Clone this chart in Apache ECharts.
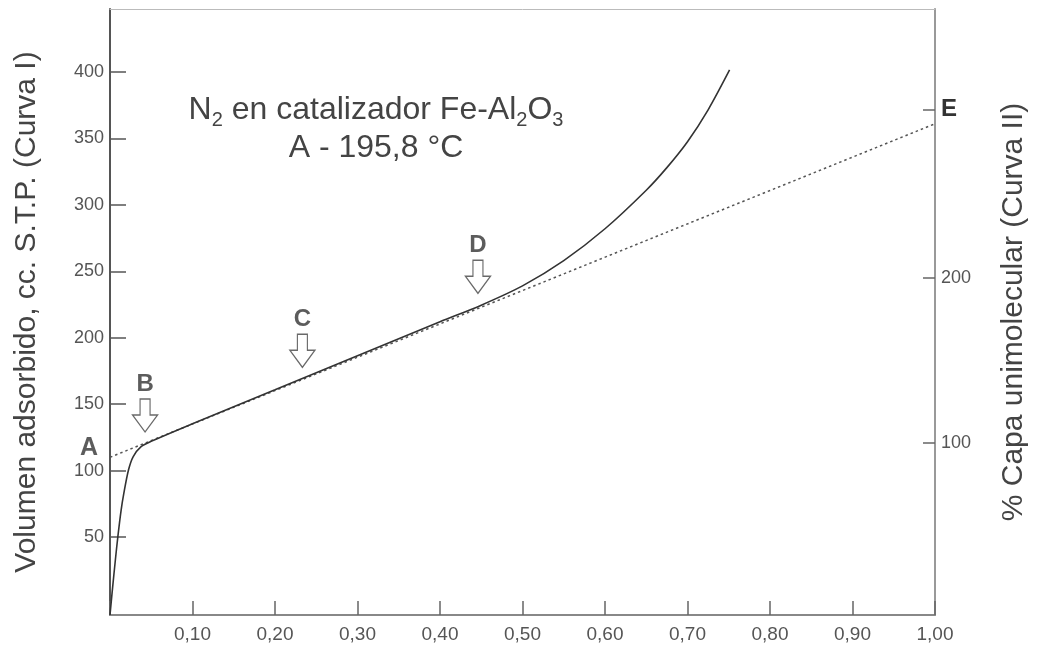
<!DOCTYPE html>
<html>
<head>
<meta charset="utf-8">
<script src="https://cdn.jsdelivr.net/npm/echarts@6/dist/echarts.min.js"></script>
<style>html,body{margin:0;padding:0;background:#fff;}#c{width:1037px;height:646px;}</style>
</head>
<body>
<div id="c"></div>
<script>
// Curve I (solid isotherm)
const curveX = [0, 0.0025, 0.0065, 0.0096, 0.0135, 0.0168, 0.0224, 0.028, 0.0377, 0.0506, 0.10, 0.20, 0.30, 0.40, 0.45, 0.50, 0.55, 0.60, 0.65, 0.675, 0.70, 0.725, 0.751];
const curveY = [-8.7, 7.8, 32.7, 50.7, 70.3, 83, 100.4, 110.4, 118, 122.2, 135.2, 160.8, 186.4, 212, 224.5, 239, 258, 282, 311, 328, 347.5, 371.5, 401.5];
// Extrapolated straight line A -> E (dotted)
const lineX = [0, 1.0];
const lineY = [110, 361];
// Arrow marks (tip positions)
const arrowLabels = ['B', 'C', 'D'];
const arrowX = [0.0425, 0.2332, 0.446];
const arrowY = [129, 177.7, 233.4];
// Point A label
const pointA = [0, 117];
// Tick labels
const leftTicks = [50, 100, 150, 200, 250, 300, 350, 400];
const rightTicks = [100, 200];
const rightE = 302;

const font = '"Liberation Sans", Arial, Helvetica, sans-serif';
const chart = echarts.init(document.getElementById('c'), null, {renderer: 'canvas'});

const option = {
  backgroundColor: '#fff',
  animation: false,
  grid: {left: 110, right: 98, top: 9, bottom: 31, containLabel: false},
  xAxis: [{
    type: 'value', min: 0, max: 1, interval: 0.1,
    axisLine: {show: true, onZero: false, lineStyle: {color: '#888', width: 2}},
    axisTick: {show: true, inside: true, length: 14, lineStyle: {color: '#666', width: 1.5}},
    axisLabel: {
      show: true, margin: 10, fontSize: 19, color: '#555', fontFamily: font,
      showMinLabel: true, showMaxLabel: true,
      formatter: v => v === 0 ? '' : v.toFixed(2).replace('.', ',')
    },
    splitLine: {show: false}
  }, {
    type: 'value', min: 0, max: 1, position: 'top',
    axisLine: {show: true, onZero: false, lineStyle: {color: '#bbb', width: 1}},
    axisTick: {show: false}, axisLabel: {show: false}, splitLine: {show: false}
  }],
  yAxis: [{
    type: 'value', min: -8.7, max: 447.4, position: 'left',
    name: 'Volumen adsorbido, cc. S.T.P. (Curva I)',
    nameLocation: 'middle', nameRotate: 90, nameGap: 68,
    nameTextStyle: {fontSize: 30, color: '#444', fontFamily: font},
    axisLine: {show: true, onZero: false, lineStyle: {color: '#555', width: 2}},
    axisTick: {show: true, inside: true, length: 16, customValues: leftTicks, lineStyle: {color: '#555', width: 1.5}},
    axisLabel: {show: true, inside: false, margin: 6, fontSize: 18, color: '#555', fontFamily: font, customValues: leftTicks},
    splitLine: {show: false}
  }, {
    type: 'value', min: -4.2, max: 363, position: 'right',
    name: '% Capa unimolecular (Curva II)',
    nameLocation: 'middle', nameRotate: 90, nameGap: 64,
    nameTextStyle: {fontSize: 30, color: '#444', fontFamily: font},
    axisLine: {show: true, onZero: false, lineStyle: {color: '#999', width: 2}},
    axisTick: {show: true, inside: true, length: 12, customValues: rightTicks.concat([rightE]), lineStyle: {color: '#666', width: 1.5}},
    axisLabel: {
      show: true, margin: 6, fontSize: 18, color: '#555', fontFamily: font,
      customValues: rightTicks.concat([rightE]),
      formatter: v => v === rightE ? '{e|E}' : String(v),
      rich: {e: {fontSize: 24, fontWeight: 'bold', color: '#333', fontFamily: font}}
    },
    splitLine: {show: false}
  }],
  graphic: [{
    type: 'text', x: 376, y: 110,
    style: {
      text: '{n|N}{s|2}{n| en catalizador Fe-Al}{s|2}{n|O}{s|3}',
      align: 'center', verticalAlign: 'middle',
      rich: {
        n: {fontSize: 32, fill: '#444', fontFamily: font},
        s: {fontSize: 20, fill: '#444', fontFamily: font, padding: [21, 0, 0, 0]}
      }
    }
  }, {
    type: 'text', x: 376, y: 148,
    style: {
      text: 'A - 195,8 °C', align: 'center', verticalAlign: 'middle',
      fontSize: 32, fill: '#444', fontFamily: font
    }
  }],
  series: [{
    name: 'linea', type: 'line', xAxisIndex: 0, yAxisIndex: 0,
    data: lineX.map((x, i) => [x, lineY[i]]),
    symbol: 'none', silent: true,
    lineStyle: {color: '#555', width: 1.5, type: [2.5, 3]}
  }, {
    name: 'Curva I', type: 'line', xAxisIndex: 0, yAxisIndex: 0,
    data: curveX.map((x, i) => [x, curveY[i]]),
    symbol: 'none', smooth: 0.3, silent: true,
    lineStyle: {color: '#333', width: 1.6}
  }, {
    name: 'flechas', type: 'scatter', xAxisIndex: 0, yAxisIndex: 0,
    data: arrowX.map((x, i) => ({value: [x, arrowY[i]], name: arrowLabels[i]})),
    symbol: 'path://M7.5,0 L17.5,0 L17.5,16 L25,16 L12.5,33 L0,16 L7.5,16 Z',
    symbolSize: [25, 33], symbolOffset: [0, '-50%'], symbolKeepAspect: false,
    itemStyle: {color: '#fff', borderColor: '#444', borderWidth: 1.3},
    label: {
      show: true, position: 'top', distance: 2, formatter: p => p.name,
      fontSize: 24, fontWeight: 'bold', color: '#333', fontFamily: font
    },
    silent: true, z: 5
  }, {
    name: 'A', type: 'scatter', xAxisIndex: 0, yAxisIndex: 0,
    data: [{value: pointA, name: 'A'}],
    symbolSize: 0, clip: false,
    label: {
      show: true, position: 'left', distance: 12, formatter: 'A',
      fontSize: 25, fontWeight: 'bold', color: '#333', fontFamily: font
    },
    silent: true
  }]
};
chart.setOption(option);
</script>
</body>
</html>
